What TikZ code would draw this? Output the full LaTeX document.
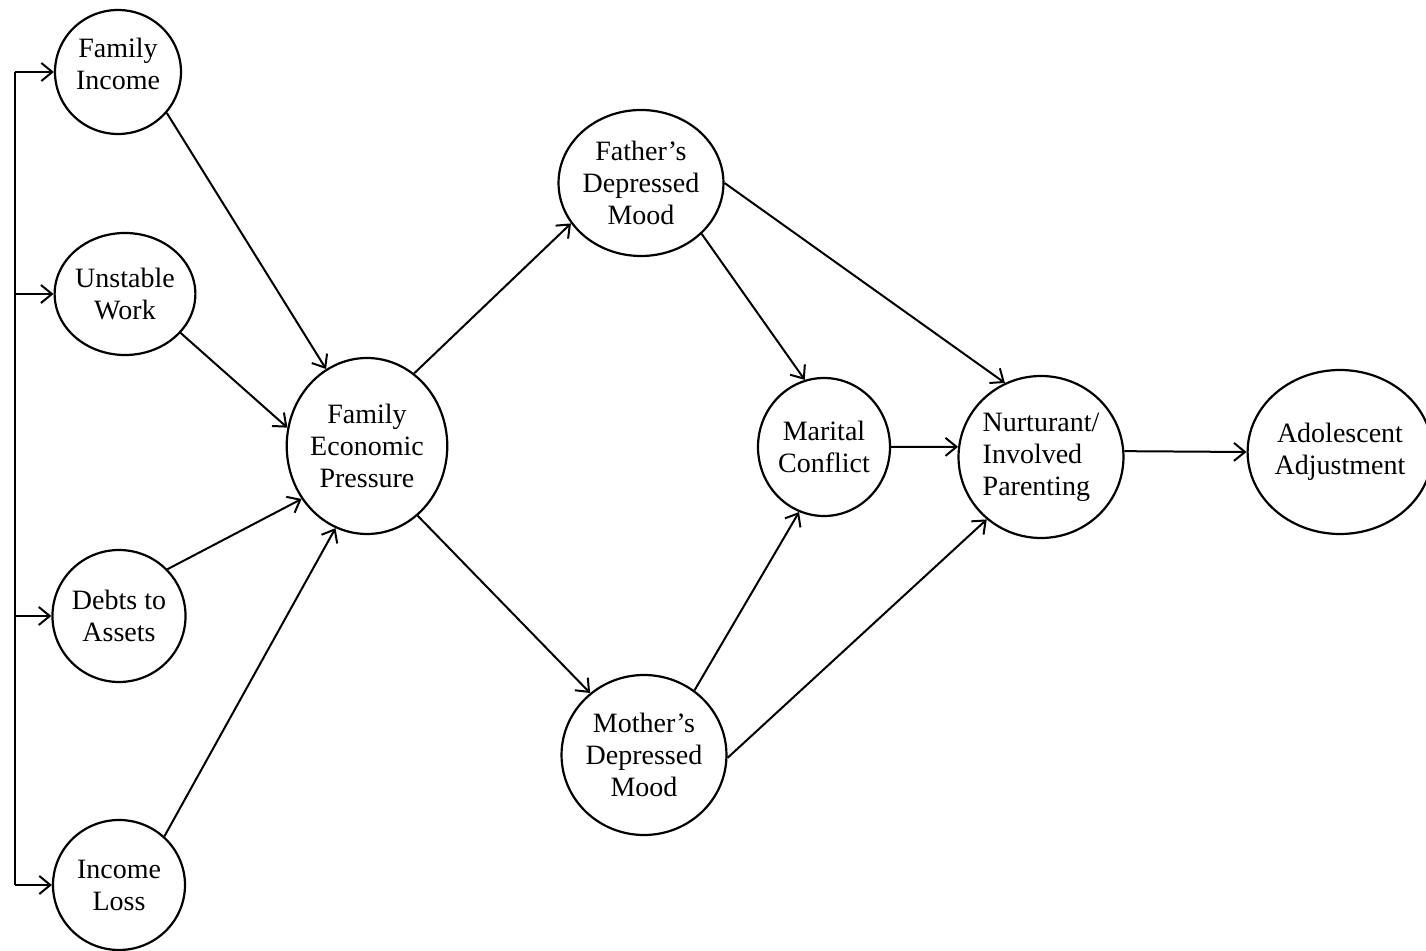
\documentclass[tikz,border=0pt]{standalone}
\usepackage{fontspec}
\setmainfont{Liberation Serif}
\usetikzlibrary{arrows.meta,shapes.geometric}
\tikzset{
  var/.style={draw, line width=1.1pt, shape=ellipse, inner sep=0pt, align=center,
    font=\fontsize{14}{16}\selectfont},
  arr/.style={draw, line width=1pt, -{Straight Barb[length=5.5pt,width=9pt,line width=1pt]}},
  bar/.style={draw, line width=1pt}
}
\begin{document}
\begin{tikzpicture}[x=0.5pt,y=-0.5pt]
\useasboundingbox (0,0) rectangle (1426,951);
% nodes
\node[var, minimum width=63pt, minimum height=62pt] (FI) at (118,72) {Family\\Income\\[-8pt]\mbox{}};
\node[var, minimum width=63pt, minimum height=61pt] (UW) at (125,294) {Unstable\\Work};
\node[var, minimum width=66pt, minimum height=66pt] (DA) at (119,616) {Debts to\\Assets};
\node[var, minimum width=66pt, minimum height=65pt] (IL) at (119,885) {Income\\Loss};
\node[var, minimum width=79pt, minimum height=88pt] (FEP) at (367,446) {Family\\Economic\\Pressure};
\node[var, minimum width=79pt, minimum height=73pt] (FA) at (641,183) {Father's\\Depressed\\Mood};
\node[var, minimum width=81pt, minimum height=80pt] (MO) at (644,755) {Mother's\\Depressed\\Mood};
\node[var, minimum width=66pt, minimum height=69pt] (MC) at (824,447) {Marital\\Conflict};
\node[var, minimum width=80pt, minimum height=81pt, align=left] (NP) at (1041,457) {Nurturant/\\Involved\\Parenting};
\node[var, minimum width=88pt, minimum height=82pt] (AD) at (1340,452) {Adolescent\\Adjustment};
% left bracket
\coordinate (b1) at (15,72);
\coordinate (b2) at (15,294);
\coordinate (b3) at (15,616);
\coordinate (b4) at (15,885);
\draw[bar] (b1) -- (b4);
\draw[arr] (b1) -- (FI.west);
\draw[arr] (b2) -- (UW.west);
\draw[arr] (b3) -- (DA.west);
\draw[arr] (b4) -- (IL.west);
% connectors
\draw[arr] (FI.-40) -- (FEP.118);
\draw[arr] (UW.-35) -- (FEP.167);
\draw[arr] (DA.44) -- (FEP.219);
\draw[arr] (IL.47) -- (FEP.249);
\draw[arr] (FEP.57) -- (FA.210);
\draw[arr] (FEP.-54) -- (MO.131);
\draw[arr] (FA.-40) -- (MC.106);
\draw[arr] (FA.0) -- (NP.116);
\draw[arr] (MO.52) -- (MC.249);
\draw[arr] (MO.-2) -- (NP.229);
\draw[arr] (MC.0) -- (NP.173);
\draw[arr] (NP.4) -- (AD.180);
\end{tikzpicture}
\end{document}
